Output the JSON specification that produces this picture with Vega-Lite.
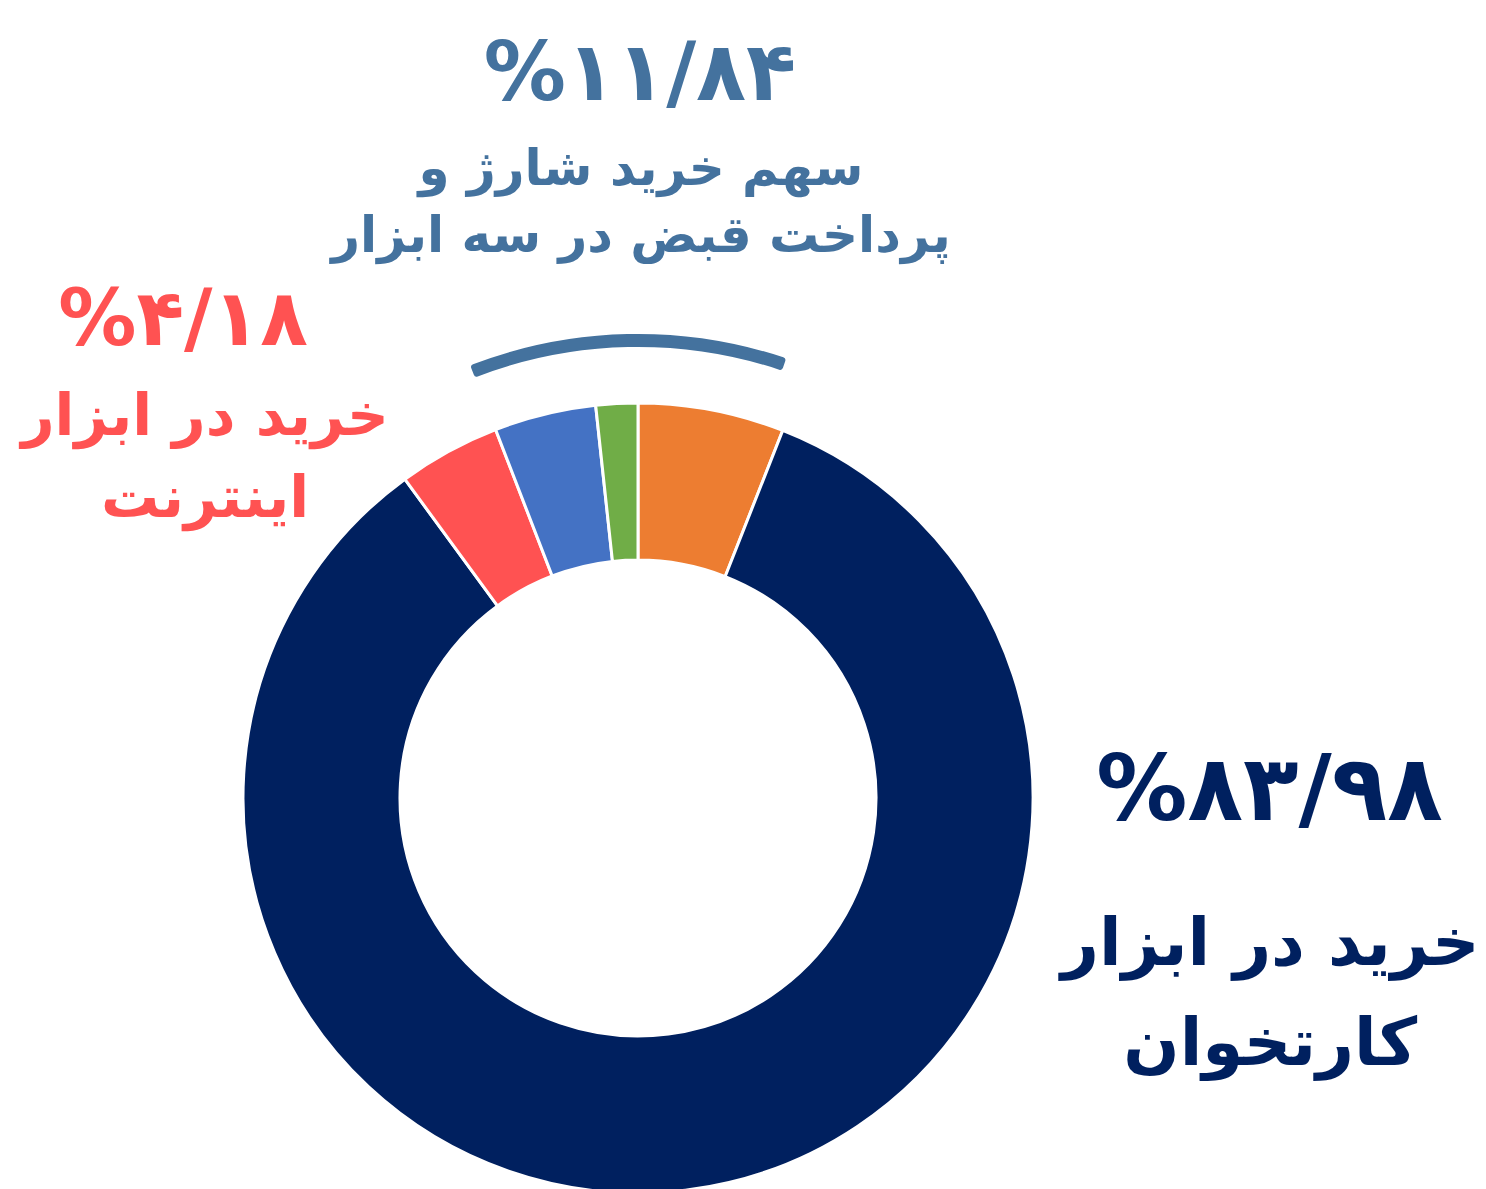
{
  "$schema": "https://vega.github.io/schema/vega-lite/v6.json",
  "autosize": {"type": "none"},
  "width": 1276,
  "height": 782,
  "padding": {"left": 0, "top": 407, "right": 210, "bottom": 0},
  "background": "white",
  "config": {"view": {"stroke": null}, "text": {"font": "DejaVu Sans", "fontWeight": "bold"}},
  "datasets": {
    "slices": [
      {"category": "orange", "group": "three", "value": 5.97, "order": 1},
      {"category": "navy", "group": "card", "value": 83.98, "order": 2},
      {"category": "red", "group": "internet", "value": 4.18, "order": 3},
      {"category": "blue", "group": "three", "value": 4.16, "order": 4},
      {"category": "green", "group": "three", "value": 1.71, "order": 5}
    ],
    "labels": [
      {"key": "three", "pct": "%۱۱/۸۴", "desc": ["سهم خرید شارژ و", "پرداخت قبض در سه ابزار"]},
      {"key": "internet", "pct": "%۴/۱۸", "desc": ["خرید در ابزار", "اینترنت"]},
      {"key": "card", "pct": "%۸۳/۹۸", "desc": ["خرید در ابزار", "کارتخوان"]}
    ]
  },
  "layer": [
    {
      "data": {"name": "slices"},
      "transform": [
        {"stack": "value", "groupby": [], "sort": [{"field": "order"}], "as": ["v0", "v1"]}
      ],
      "mark": {"type": "arc", "innerRadius": 238, "outerRadius": 395, "stroke": "white", "strokeWidth": 3},
      "encoding": {
        "theta": {"field": "v0", "type": "quantitative", "scale": {"domain": [0, 100]}},
        "theta2": {"field": "v1"},
        "color": {
          "field": "category", "type": "nominal", "legend": null,
          "scale": {"domain": ["orange", "navy", "red", "blue", "green"], "range": ["#ED7D31", "#00205F", "#FF5252", "#4472C4", "#70AD47"]}
        }
      }
    },
    {
      "data": {"name": "labels"},
      "transform": [{"filter": "datum.key == 'three'"}],
      "mark": {"type": "arc", "theta": -0.37, "theta2": 0.325, "innerRadius": 451, "outerRadius": 464, "cornerRadius": 3, "color": "#44729E"},
      "encoding": {}
    },
    {
      "data": {"name": "labels"},
      "transform": [{"filter": "datum.key == 'three'"}],
      "mark": {"type": "text", "theta": 0.0029, "radius": 698, "fontSize": 82, "color": "#44729E", "align": "center", "baseline": "alphabetic"},
      "encoding": {"text": {"field": "pct", "type": "nominal"}}
    },
    {
      "data": {"name": "labels"},
      "transform": [{"filter": "datum.key == 'three'"}],
      "mark": {"type": "text", "theta": 0.0049, "radius": 613, "fontSize": 50, "lineHeight": 67, "color": "#44729E", "align": "center", "baseline": "alphabetic"},
      "encoding": {"text": {"field": "desc", "type": "nominal"}}
    },
    {
      "data": {"name": "labels"},
      "transform": [{"filter": "datum.key == 'internet'"}],
      "mark": {"type": "text", "theta": -0.7876, "radius": 642, "fontSize": 78, "color": "#FF5252", "align": "center", "baseline": "alphabetic"},
      "encoding": {"text": {"field": "pct", "type": "nominal"}}
    },
    {
      "data": {"name": "labels"},
      "transform": [{"filter": "datum.key == 'internet'"}],
      "mark": {"type": "text", "theta": -0.8731, "radius": 565, "fontSize": 58, "lineHeight": 82, "color": "#FF5252", "align": "center", "baseline": "alphabetic"},
      "encoding": {"text": {"field": "desc", "type": "nominal"}}
    },
    {
      "data": {"name": "labels"},
      "transform": [{"filter": "datum.key == 'card'"}],
      "mark": {"type": "text", "theta": 1.6056, "radius": 632, "fontSize": 91, "color": "#00205F", "align": "center", "baseline": "alphabetic"},
      "encoding": {"text": {"field": "pct", "type": "nominal"}}
    },
    {
      "data": {"name": "labels"},
      "transform": [{"filter": "datum.key == 'card'"}],
      "mark": {"type": "text", "theta": 1.8292, "radius": 654, "fontSize": 66, "lineHeight": 100, "color": "#00205F", "align": "center", "baseline": "alphabetic"},
      "encoding": {"text": {"field": "desc", "type": "nominal"}}
    }
  ]
}
